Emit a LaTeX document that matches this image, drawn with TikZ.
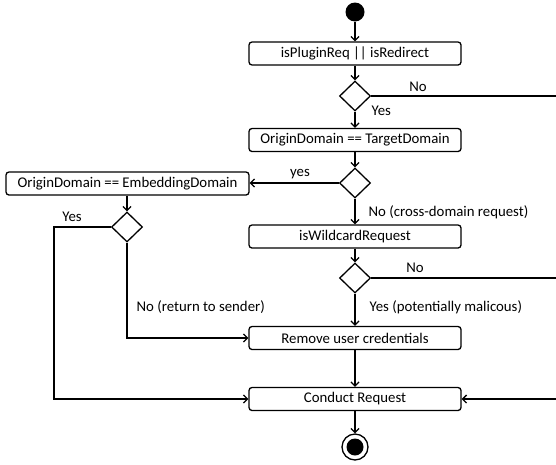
\documentclass[tikz,border=0pt]{standalone}
\usepackage{fontspec}
\setmainfont{Carlito}
\usetikzlibrary{shapes.geometric,arrows.meta}
\begin{document}
\begin{tikzpicture}[x=1pt,y=-1pt, line width=1.3pt,
 act/.style={draw, rounded corners=3pt, minimum width=212pt, minimum height=23pt, inner sep=0pt, font=\fontsize{14.8}{16}\selectfont},
 dec/.style={draw, diamond, minimum width=31pt, minimum height=30pt, inner sep=0pt},
 arr/.style={-{Straight Barb[length=4pt,width=8pt]}},
 lbl/.style={font=\fontsize{14.8}{16}\selectfont, inner sep=0pt}]
\useasboundingbox (0,0) rectangle (556,464);
\node[circle, fill, minimum size=19pt, inner sep=0pt] (start) at (355,12) {};
\node[act] (plug) at (355,53.5) {isPluginReq || isRedirect};
\node[dec] (d1) at (355,96) {};
\node[act] (target) at (355,140) {OriginDomain == TargetDomain};
\node[dec] (d2) at (355,183) {};
\node[act, minimum width=243pt] (emb) at (127.5,183.5) {OriginDomain == EmbeddingDomain};
\node[dec] (d3) at (127,227) {};
\node[act] (wild) at (355,236.5) {isWildcardRequest};
\node[dec] (d4) at (355,278) {};
\node[act] (remove) at (355,338) {Remove user credentials};
\node[act] (conduct) at (355,399) {Conduct Request};
\node[circle, draw, minimum size=26pt, inner sep=0pt] (end) at (355,447) {};
\node[circle, fill, minimum size=17pt, inner sep=0pt] (endin) at (end) {};
\coordinate (r1) at (556,96);
\coordinate (r2) at (556,278);
\coordinate (r3) at (556,399);
\coordinate (lc) at (54,227);
\draw[arr] (start) -- (plug);
\draw[arr] (plug) -- (d1);
\draw (d1.east) -- (r1);
\draw[arr] (d1) -- (target);
\draw[arr] (target) -- (d2);
\draw[arr] (d2.west) -- (d2.west -| emb.east);
\draw[arr] (d2) -- (wild);
\draw[arr] (emb.south -| d3) -- (d3);
\draw[arr] (d3.west) -- (lc) |- (conduct.west);
\draw[arr] (d3.south) |- (remove.west);
\draw[arr] (wild) -- (d4);
\draw (d4.east) -- (r2);
\draw[arr] (d4) -- (remove);
\draw[arr] (remove) -- (conduct);
\draw[arr] (r3) -- (conduct.east);
\draw[arr] (conduct) -- (end);
\node[lbl] (l1) at (418,87) {No};
\node[lbl, anchor=west] (l2) at (371,111) {Yes};
\node[lbl] (l3) at (300,174) {yes};
\node[lbl, anchor=west] (l4) at (368,212) {No (cross-domain request)};
\node[lbl] (l5) at (415,268) {No};
\node[lbl, anchor=west] (l6) at (369,307) {Yes (potentially malicous)};
\node[lbl, anchor=west] (l7) at (136,307) {No (return to sender)};
\node[lbl] (l8) at (72,217) {Yes};
\end{tikzpicture}
\end{document}
